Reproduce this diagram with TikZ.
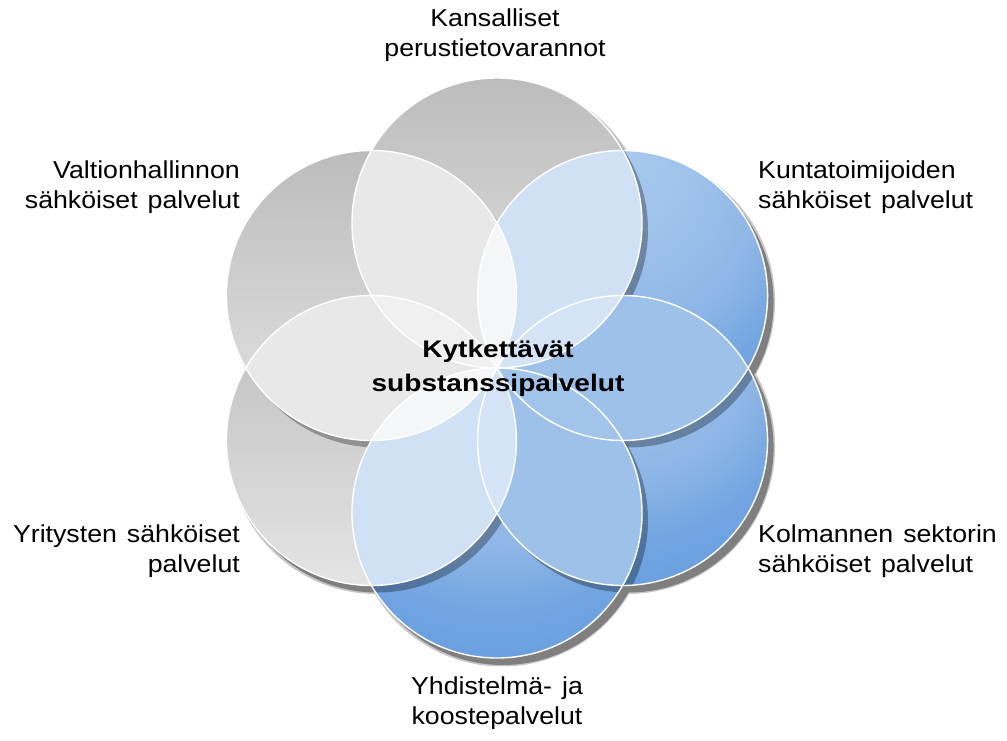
\documentclass[tikz,border=0pt]{standalone}
\usepackage{fontspec}
\setmainfont{Liberation Sans}
\newfontfamily\labelfont{Liberation Sans}[FakeStretch=1.09,WordSpace=1.35]
\newfontfamily\hubfont{Liberation Sans}[FakeStretch=1.17]
\usetikzlibrary{calc}

% circle fills
\definecolor{grayTop}{HTML}{BCBCBC}
\definecolor{grayBot}{HTML}{E4E4E4}
\definecolor{blueA}{HTML}{A8C9EF}
\definecolor{blueB}{HTML}{9FC2EB}
\definecolor{blueC}{HTML}{8CB5E6}
\definecolor{blueD}{HTML}{72A5E1}
\definecolor{blueE}{HTML}{6A9FE0}
% overlap regions
\definecolor{lensGG}{HTML}{E8E8E8}
\definecolor{lensGB}{HTML}{D0E1F5}
\definecolor{lensBB}{HTML}{9EC1EA}
\definecolor{petGGG}{HTML}{F0F0F0}
\definecolor{petGGB}{HTML}{F5F6F8}
\definecolor{petGBB}{HTML}{D4E4F6}
\definecolor{petBBB}{HTML}{A2C4EB}

% blue fill: light near the top of the disc, darker towards the bottom
\pgfdeclareradialshading{bluefill}{\pgfpoint{0bp}{25bp}}{%
  color(0bp)=(blueA); color(12bp)=(blueB); color(24bp)=(blueC);
  color(32bp)=(blueD); color(38bp)=(blueE); color(75bp)=(blueE)}

\tikzset{
  lbl/.style={font=\labelfont\fontsize{24.5}{30}\selectfont, inner sep=0pt, text=black},
  hub/.style={font=\hubfont\bfseries\fontsize{24}{34}\selectfont, inner sep=0pt, text=black},
  grayfill/.style={top color=grayTop, bottom color=grayBot},
  bluedisc/.style={shading=bluefill},
  rim/.style={draw=white, line width=1.4pt},
}

\newcommand\venlens[3]{\begin{scope}\clip (c#1) circle (\R); \fill[#3] (c#2) circle (\R);\end{scope}}
\newcommand\venpetal[4]{\begin{scope}\clip (c#1) circle (\R); \clip (c#3) circle (\R); \fill[#4] (c#2) circle (\R);\end{scope}}

\begin{document}
\begin{tikzpicture}[x=1pt,y=1pt]
\useasboundingbox (0,0) rectangle (1007,740);
\fill[white] (0,0) rectangle (1007,740);
\def\R{145}
\coordinate (O) at (497,372);
\foreach \n/\a in {T/90,UR/30,LR/-30,B/-90,LL/210,UL/150}
  \coordinate (c\n) at ($(O)+(\a:\R)$);

% drop shadows (soft rim + core)
\begin{scope}[transparency group, opacity=0.22]
  \foreach \n in {T,UR,LR,B,LL,UL}
    \fill[black] ([shift={(5,-6)}]c\n) circle (\R+2.5);
\end{scope}
\begin{scope}[transparency group, opacity=0.36]
  \foreach \n in {T,UR,LR,B,LL,UL}
    \fill[black] ([shift={(6,-7)}]c\n) circle (\R);
\end{scope}

% discs
\foreach \n in {T,UL,LL}
  \fill[grayfill] (c\n) circle (\R);
\foreach \n in {UR,LR,B}
  \fill[bluedisc] (c\n) circle (\R);

% shadows cast onto neighbouring discs
\begin{scope}
  \clip (cT) circle (\R) (cUR) circle (\R) (cLR) circle (\R)
        (cB) circle (\R) (cLL) circle (\R) (cUL) circle (\R);
  \foreach \n in {T,UR,LR,B,LL,UL}{
    \begin{scope}
      \clip (0,0) -- (0,740) -- (1007,740) -- (1007,0) -- cycle (c\n) circle (\R);
      \fill[black, opacity=0.3] ([shift={(6,-7)}]c\n) circle (\R);
    \end{scope}
  }
\end{scope}

% pairwise overlaps
\venlens{T}{UR}{lensGB}
\venlens{UR}{LR}{lensBB}
\venlens{LR}{B}{lensBB}
\venlens{B}{LL}{lensGB}
\venlens{LL}{UL}{lensGG}
\venlens{UL}{T}{lensGG}

% triple overlaps around the hub
\venpetal{UL}{T}{UR}{petGGB}
\venpetal{T}{UR}{LR}{petGBB}
\venpetal{UR}{LR}{B}{petBBB}
\venpetal{LR}{B}{LL}{petGBB}
\venpetal{B}{LL}{UL}{petGGB}
\venpetal{LL}{UL}{T}{petGGG}

% white rims
\foreach \n in {T,UR,LR,B,LL,UL}
  \draw[rim] (c\n) circle (\R);

% labels
\node[hub, align=center] (hubtext) at (498,372) {Kytkettävät\\substanssipalvelut};
\node[lbl, anchor=north, align=center] (tT) at (495,731) {Kansalliset\\perustietovarannot};
\node[lbl, anchor=north west, align=left] (tUR) at (758,579) {Kuntatoimijoiden\\sähköiset palvelut};
\node[lbl, anchor=north east, align=right] (tUL) at (240,579) {Valtionhallinnon\\sähköiset palvelut};
\node[lbl, anchor=north west, align=left] (tLR) at (758,215) {Kolmannen sektorin\\sähköiset palvelut};
\node[lbl, anchor=north east, align=right] (tLL) at (240,215) {Yritysten sähköiset\\palvelut};
\node[lbl, anchor=north, align=center] (tB) at (497,63) {Yhdistelmä- ja\\koostepalvelut};
\end{tikzpicture}
\end{document}
